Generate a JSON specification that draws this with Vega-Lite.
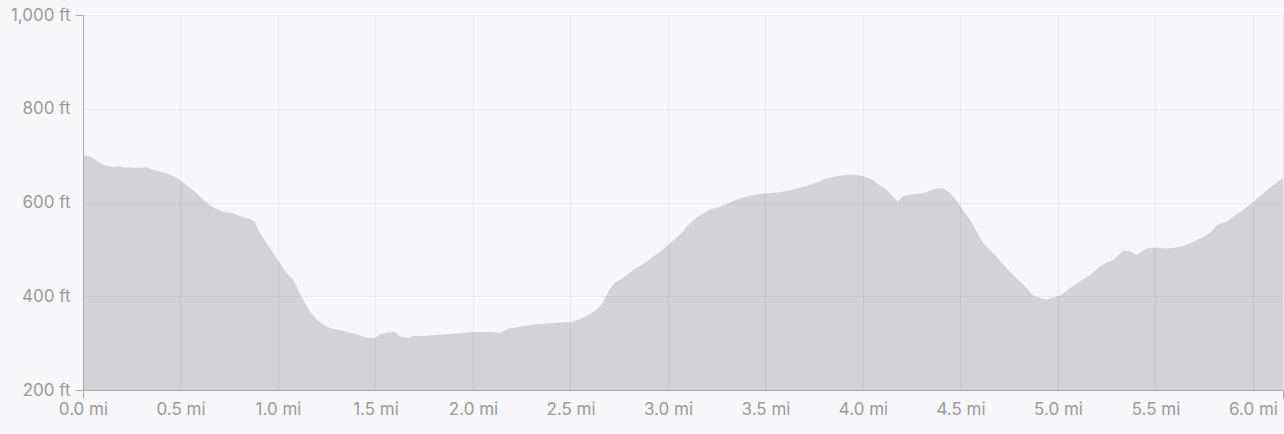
{
  "$schema": "https://vega.github.io/schema/vega-lite/v6.json",
  "width": 1200,
  "height": 375,
  "autosize": "none",
  "padding": {"left": 83, "top": 15, "right": 1, "bottom": 44},
  "background": "#f7f7f9",
  "config": {
    "view": {"stroke": null},
    "font": "Inter"
  },
  "data": {
    "values": [
      {"mi": 0.0, "ft": 701}, {"mi": 0.036, "ft": 698}, {"mi": 0.062, "ft": 692}, {"mi": 0.096, "ft": 682},
      {"mi": 0.121, "ft": 678}, {"mi": 0.156, "ft": 676}, {"mi": 0.181, "ft": 678}, {"mi": 0.207, "ft": 675},
      {"mi": 0.258, "ft": 674}, {"mi": 0.301, "ft": 674}, {"mi": 0.327, "ft": 675}, {"mi": 0.352, "ft": 671},
      {"mi": 0.395, "ft": 666}, {"mi": 0.438, "ft": 661}, {"mi": 0.472, "ft": 655}, {"mi": 0.497, "ft": 648},
      {"mi": 0.532, "ft": 637}, {"mi": 0.574, "ft": 623}, {"mi": 0.609, "ft": 609}, {"mi": 0.643, "ft": 596},
      {"mi": 0.677, "ft": 588}, {"mi": 0.72, "ft": 580}, {"mi": 0.771, "ft": 577}, {"mi": 0.822, "ft": 568},
      {"mi": 0.856, "ft": 565}, {"mi": 0.882, "ft": 559}, {"mi": 0.899, "ft": 541}, {"mi": 0.925, "ft": 524},
      {"mi": 0.959, "ft": 502}, {"mi": 1.01, "ft": 471}, {"mi": 1.045, "ft": 449}, {"mi": 1.078, "ft": 435},
      {"mi": 1.104, "ft": 413}, {"mi": 1.13, "ft": 392}, {"mi": 1.164, "ft": 367}, {"mi": 1.198, "ft": 351},
      {"mi": 1.232, "ft": 339}, {"mi": 1.267, "ft": 332}, {"mi": 1.318, "ft": 328}, {"mi": 1.352, "ft": 324},
      {"mi": 1.404, "ft": 319}, {"mi": 1.446, "ft": 312}, {"mi": 1.497, "ft": 311}, {"mi": 1.523, "ft": 319},
      {"mi": 1.557, "ft": 322}, {"mi": 1.6, "ft": 324}, {"mi": 1.626, "ft": 314}, {"mi": 1.668, "ft": 311},
      {"mi": 1.694, "ft": 315}, {"mi": 1.745, "ft": 315}, {"mi": 1.796, "ft": 317}, {"mi": 1.865, "ft": 319},
      {"mi": 1.933, "ft": 321}, {"mi": 1.993, "ft": 324}, {"mi": 2.036, "ft": 324}, {"mi": 2.087, "ft": 324},
      {"mi": 2.138, "ft": 322}, {"mi": 2.19, "ft": 332}, {"mi": 2.258, "ft": 336}, {"mi": 2.309, "ft": 340},
      {"mi": 2.378, "ft": 342}, {"mi": 2.446, "ft": 344}, {"mi": 2.506, "ft": 345}, {"mi": 2.532, "ft": 349},
      {"mi": 2.583, "ft": 358}, {"mi": 2.634, "ft": 371}, {"mi": 2.668, "ft": 388}, {"mi": 2.694, "ft": 410},
      {"mi": 2.72, "ft": 426}, {"mi": 2.771, "ft": 440}, {"mi": 2.822, "ft": 456}, {"mi": 2.891, "ft": 474},
      {"mi": 2.959, "ft": 495}, {"mi": 3.01, "ft": 513}, {"mi": 3.062, "ft": 532}, {"mi": 3.113, "ft": 556},
      {"mi": 3.164, "ft": 573}, {"mi": 3.215, "ft": 585}, {"mi": 3.267, "ft": 591}, {"mi": 3.318, "ft": 600},
      {"mi": 3.369, "ft": 609}, {"mi": 3.438, "ft": 616}, {"mi": 3.506, "ft": 620}, {"mi": 3.574, "ft": 622},
      {"mi": 3.643, "ft": 628}, {"mi": 3.711, "ft": 635}, {"mi": 3.762, "ft": 642}, {"mi": 3.814, "ft": 652},
      {"mi": 3.865, "ft": 656}, {"mi": 3.916, "ft": 659}, {"mi": 3.968, "ft": 659}, {"mi": 4.002, "ft": 656},
      {"mi": 4.045, "ft": 649}, {"mi": 4.087, "ft": 637}, {"mi": 4.121, "ft": 627}, {"mi": 4.155, "ft": 612},
      {"mi": 4.181, "ft": 602}, {"mi": 4.207, "ft": 614}, {"mi": 4.258, "ft": 618}, {"mi": 4.309, "ft": 620},
      {"mi": 4.344, "ft": 625}, {"mi": 4.378, "ft": 630}, {"mi": 4.412, "ft": 630}, {"mi": 4.446, "ft": 621},
      {"mi": 4.48, "ft": 604}, {"mi": 4.514, "ft": 583}, {"mi": 4.549, "ft": 563}, {"mi": 4.583, "ft": 538},
      {"mi": 4.617, "ft": 513}, {"mi": 4.668, "ft": 492}, {"mi": 4.72, "ft": 468}, {"mi": 4.771, "ft": 445},
      {"mi": 4.822, "ft": 425}, {"mi": 4.873, "ft": 401}, {"mi": 4.908, "ft": 397}, {"mi": 4.942, "ft": 393},
      {"mi": 4.976, "ft": 397}, {"mi": 5.019, "ft": 403}, {"mi": 5.07, "ft": 420}, {"mi": 5.113, "ft": 432},
      {"mi": 5.164, "ft": 445}, {"mi": 5.215, "ft": 463}, {"mi": 5.249, "ft": 472}, {"mi": 5.283, "ft": 477},
      {"mi": 5.309, "ft": 488}, {"mi": 5.335, "ft": 497}, {"mi": 5.36, "ft": 497}, {"mi": 5.386, "ft": 492},
      {"mi": 5.403, "ft": 488}, {"mi": 5.429, "ft": 495}, {"mi": 5.455, "ft": 502}, {"mi": 5.506, "ft": 504},
      {"mi": 5.557, "ft": 502}, {"mi": 5.608, "ft": 504}, {"mi": 5.642, "ft": 507}, {"mi": 5.693, "ft": 516},
      {"mi": 5.745, "ft": 526}, {"mi": 5.796, "ft": 541}, {"mi": 5.813, "ft": 552}, {"mi": 5.865, "ft": 559},
      {"mi": 5.908, "ft": 573}, {"mi": 5.95, "ft": 584}, {"mi": 6.001, "ft": 601}, {"mi": 6.053, "ft": 620},
      {"mi": 6.104, "ft": 637}, {"mi": 6.154, "ft": 653}
    ]
  },
  "mark": {"type": "area", "color": "#d3d3d5", "opacity": 1, "interpolate": "linear", "clip": true},
  "encoding": {
    "x": {
      "field": "mi",
      "type": "quantitative",
      "scale": {"domain": [0, 6.154], "nice": false, "zero": false},
      "axis": {
        "title": null,
        "values": [0, 0.5, 1, 1.5, 2, 2.5, 3, 3.5, 4, 4.5, 5, 5.5, 6, 6.154],
        "labelExpr": "datum.value > 6.1 ? '' : format(datum.value, '.1f') + ' mi'",
        "labelFontSize": 17,
        "labelColor": "#9a9a9a",
        "labelPadding": 3,
        "labelFlush": false,
        "labelOverlap": false,
        "domainColor": "#aaaaaa",
        "domainWidth": 1,
        "tickColor": "#aaaaaa",
        "tickSize": 8,
        "tickOpacity": {"condition": {"test": "datum.value === 0 || datum.value > 6.1", "value": 1}, "value": 0},
        "gridColor": "#000000",
        "gridOpacity": 0.05,
        "zindex": 1
      }
    },
    "y": {
      "field": "ft",
      "type": "quantitative",
      "scale": {"domain": [200, 1000], "nice": false, "zero": false},
      "axis": {
        "title": null,
        "values": [200, 400, 600, 800, 1000],
        "labelExpr": "format(datum.value, ',') + ' ft'",
        "labelFontSize": 17,
        "labelColor": "#9a9a9a",
        "labelPadding": 5,
        "labelFlush": false,
        "labelOverlap": false,
        "domainColor": "#aaaaaa",
        "domainWidth": 1,
        "tickColor": "#aaaaaa",
        "tickSize": 8,
        "tickOpacity": {"condition": {"test": "datum.value === 200 || datum.value === 1000", "value": 1}, "value": 0},
        "gridColor": "#000000",
        "gridOpacity": 0.05,
        "zindex": 1
      }
    }
  }
}
